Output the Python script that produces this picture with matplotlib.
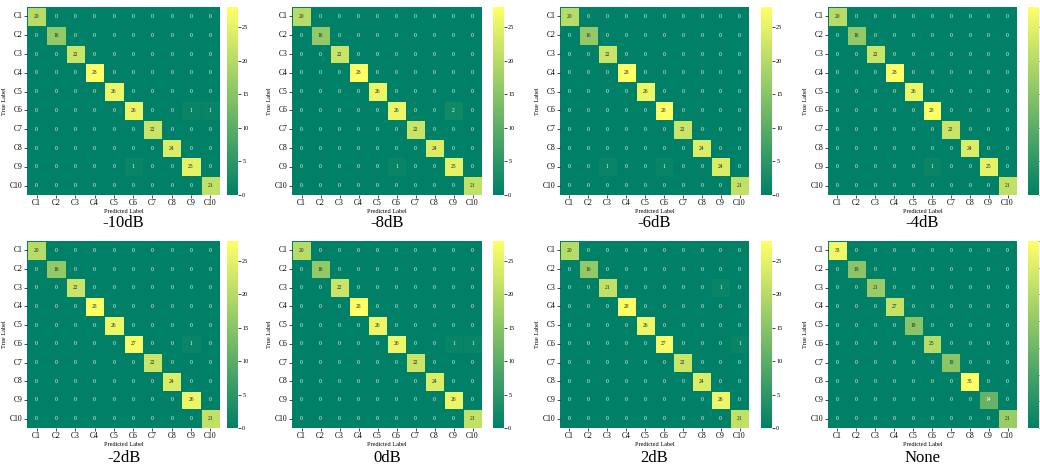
import numpy as np
import matplotlib
matplotlib.use("Agg")
import matplotlib.pyplot as plt
import seaborn as sns

plt.rcParams["font.family"] = ["Liberation Serif", "DejaVu Serif"]

classes = ["C1", "C2", "C3", "C4", "C5", "C6", "C7", "C8", "C9", "C10"]
snr_labels = ["-10dB", "-8dB", "-6dB", "-4dB", "-2dB", "0dB", "2dB", "None"]

# diagonale (campioni corretti) per ogni SNR
diag_m10 = [20, 16, 22, 28, 26, 26, 22, 24, 25, 21]
diag_m8 = [20, 16, 22, 28, 26, 26, 22, 24, 25, 21]
diag_m6 = [20, 16, 22, 28, 26, 28, 22, 24, 24, 21]
diag_m4 = [20, 16, 22, 28, 26, 28, 22, 24, 25, 21]
diag_m2 = [20, 16, 22, 28, 26, 27, 22, 24, 26, 21]
diag_0 = [20, 16, 22, 28, 26, 26, 22, 24, 26, 21]
diag_p2 = [20, 16, 21, 28, 26, 27, 22, 24, 26, 21]
diag_none = [33, 19, 21, 27, 19, 25, 19, 35, 14, 21]

# errori fuori diagonale: (riga vera, colonna predetta, conteggio)
off_m10 = [(5, 8, 1), (5, 9, 1), (8, 5, 1)]
off_m8 = [(5, 8, 2), (8, 5, 1)]
off_m6 = [(8, 2, 1), (8, 5, 1)]
off_m4 = [(8, 5, 1)]
off_m2 = [(5, 8, 1)]
off_0 = [(5, 8, 1), (5, 9, 1)]
off_p2 = [(2, 8, 1), (5, 9, 1)]
off_none = []

diags = [diag_m10, diag_m8, diag_m6, diag_m4, diag_m2, diag_0, diag_p2, diag_none]
offs = [off_m10, off_m8, off_m6, off_m4, off_m2, off_0, off_p2, off_none]

W, H = 1040, 470
fig = plt.figure(figsize=(W / 100, H / 100), dpi=100)

# posizioni in pixel (sinistra, larghezza) per colonna e (alto, basso) per riga
col_left = [27, 292, 560, 828]
col_width = [193, 190, 189, 189]
cbar_left = [227, 493, 761, 1028]
row_top = [7, 241]
row_bottom = [195, 428]
title_y = [223, 458]


def px_box(x, y_top, w, y_bot):
    return [x / W, 1 - y_bot / H, w / W, (y_bot - y_top) / H]


low_color = plt.get_cmap("summer")(0.0)

for k, (d, off) in enumerate(zip(diags, offs)):
    r, c = divmod(k, 4)
    cm = np.diag(d).astype(int)
    for i, j, v in off:
        cm[i, j] = v

    ax = fig.add_axes(px_box(col_left[c], row_top[r], col_width[c], row_bottom[r]))
    cax = fig.add_axes(px_box(cbar_left[c], row_top[r], 11, row_bottom[r]))
    sns.heatmap(cm, ax=ax, cbar_ax=cax, cmap="summer", annot=True, fmt="d",
                annot_kws={"fontsize": 4}, xticklabels=classes, yticklabels=classes,
                vmin=0, vmax=cm.max(), linewidths=0.6, linecolor=low_color)
    ax.tick_params(labelsize=5.5, length=2, width=0.5, pad=1)
    ax.set_yticklabels(classes, rotation=0)
    ax.set_xticklabels(classes, rotation=0)
    ax.set_xlabel("Predicted Label", fontsize=4.5, labelpad=1)
    ax.set_ylabel("True Label", fontsize=4.5, labelpad=2)
    cax.tick_params(labelsize=4.5, length=2, width=0.5, pad=1)
    if c == 3:
        # la colorbar dell'ultima colonna e' tagliata dal bordo: niente etichette
        cax.set_yticklabels([])

    cx = (col_left[c] + col_width[c] / 2) / W
    fig.text(cx, 1 - title_y[r] / H, snr_labels[k], fontsize=12,
             ha="center", va="center")

fig.savefig("out.png", dpi=100)
